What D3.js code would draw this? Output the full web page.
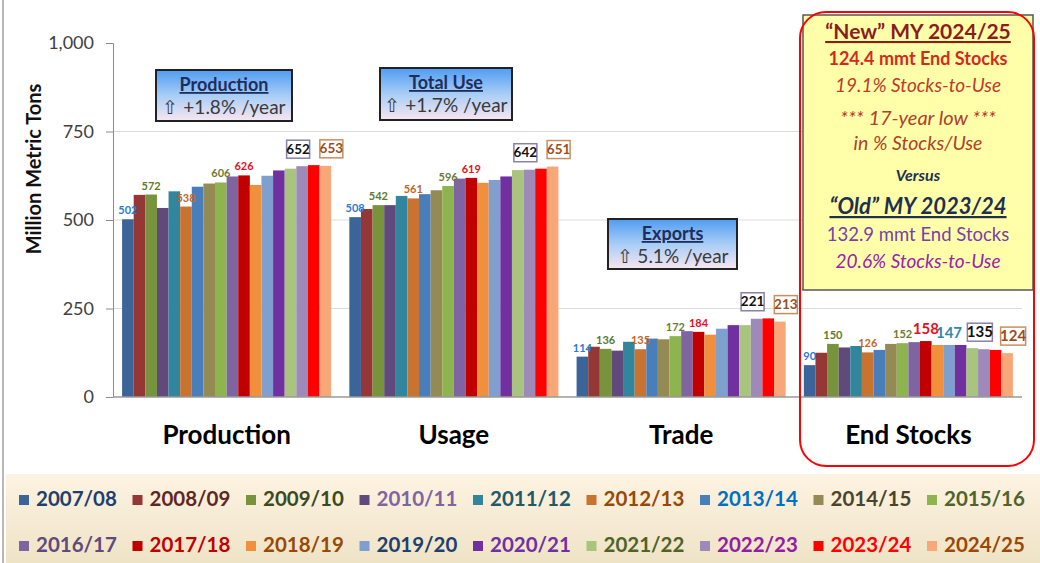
<!DOCTYPE html>
<html>
<head>
<meta charset="utf-8">
<script src="https://cdn.jsdelivr.net/npm/d3@7"></script>
<style>
  body { margin: 0; background: #fff; }
  svg { display: block; font-family: Lato, "Open Sans", sans-serif; }
</style>
</head>
<body>
<div id="container"></div>
<script>
// Chart data
const years = ["2007/08", "2008/09", "2009/10", "2010/11", "2011/12", "2012/13",
  "2013/14", "2014/15", "2015/16", "2016/17", "2017/18", "2018/19",
  "2019/20", "2020/21", "2021/22", "2022/23", "2023/24", "2024/25"];
const groups = ["Production", "Usage", "Trade", "End Stocks"];
const production = [502, 571, 572, 534, 581, 538, 594, 603, 606, 623, 626, 599, 625, 640, 645, 652, 655, 653];
const usage = [508, 531, 542, 542, 568, 561, 573, 584, 596, 617, 619, 605, 613, 623, 641, 642, 645, 651];
const trade = [114, 142, 136, 131, 156, 135, 165, 163, 172, 186, 184, 176, 193, 203, 203, 221, 222, 213];
const endStocks = [90, 125, 150, 140, 144, 126, 133, 150, 152, 155, 158, 147, 147, 147, 138, 135, 133, 124];
const yTicks = [0, 250, 500, 750, 1000];

// which bars get a value label (by year index)
const smallLabelIdx = [[0, 2, 5, 8, 10], [0, 2, 5, 8, 10], [0, 2, 5, 8, 10], [0, 2, 5, 8, 10, 12]];
const boxLabelIdx = [15, 17];

const barColors = ["#3b6499", "#953735", "#77933c", "#604a7b", "#31859c", "#c8732f",
  "#4a7ebb", "#948a54", "#8eb44f", "#8064a2", "#c00000", "#f0903c",
  "#7f9fcf", "#7030a0", "#a9c47f", "#9d8ab8", "#ff0000", "#f8a878"];
const legendTextColors = ["#1f3f6e", "#632523", "#3a4a1c", "#8064a2", "#215968", "#984807",
  "#0070c0", "#4a452a", "#4f6228", "#604a7b", "#c00000", "#984807",
  "#1f3f6e", "#7030a0", "#4f6228", "#9020a0", "#ff0000", "#984807"];
const labelColors = { 0: "#2a7ad6", 2: "#5d7a2b", 5: "#c4661e", 8: "#6b7a33", 10: "#e3101c", 12: "#2f8aa6" };

const width = 1040;
const height = 563;
const seriesByGroup = [production, usage, trade, endStocks];

const svg = d3.select("#container").append("svg")
  .attr("width", width).attr("height", height);

const defs = svg.append("defs");
const boxGrad = defs.append("linearGradient").attr("id", "boxGrad")
  .attr("x1", 0).attr("y1", 0).attr("x2", 0).attr("y2", 1);
boxGrad.append("stop").attr("offset", "0%").attr("stop-color", "#4f9cf2");
boxGrad.append("stop").attr("offset", "50%").attr("stop-color", "#a8cdf6");
boxGrad.append("stop").attr("offset", "100%").attr("stop-color", "#f8e6f0");
const legGrad = defs.append("linearGradient").attr("id", "legGrad")
  .attr("x1", 0).attr("y1", 0).attr("x2", 0).attr("y2", 1);
legGrad.append("stop").attr("offset", "0%").attr("stop-color", "#fdf3e2");
legGrad.append("stop").attr("offset", "100%").attr("stop-color", "#efe3c6");

// frame line on the left
svg.append("line").attr("x1", 3).attr("x2", 3).attr("y1", 0).attr("y2", 473)
  .attr("stroke", "#a0a0a0").attr("stroke-width", 1.5);

// scales
const y = d3.scaleLinear().domain([0, 1000]).range([397, 43]);
const x0 = d3.scaleBand().domain(groups).range([113, 1022]).paddingInner(0.08).paddingOuter(0.04);
const x1 = d3.scaleBand().domain(years).range([0, x0.bandwidth()]);

// gridlines
svg.append("g").selectAll("line")
  .data(yTicks.filter(d => d > 0 && d < 1000))
  .join("line")
  .attr("x1", 113).attr("x2", 1022)
  .attr("y1", d => y(d)).attr("y2", d => y(d))
  .attr("stroke", "#dcdcdc");

// y axis
const yAxis = svg.append("g")
  .attr("transform", "translate(113,0)")
  .call(d3.axisLeft(y).tickValues(yTicks).tickSize(7).tickPadding(12).tickFormat(d3.format(",")));
yAxis.select(".domain").attr("stroke", "#8c8c8c");
yAxis.selectAll(".tick line").attr("stroke", "#8c8c8c");
yAxis.selectAll("text").attr("font-size", 18).attr("fill", "#404040")
  .attr("font-family", "Lato, sans-serif");

svg.append("text")
  .attr("transform", "translate(41,169) rotate(-90)")
  .attr("text-anchor", "middle")
  .attr("font-size", 20).attr("font-weight", "bold").attr("fill", "#111")
  .text("Million Metric Tons");

// bars
const groupG = svg.append("g").selectAll("g")
  .data(groups)
  .join("g")
  .attr("transform", d => `translate(${x0(d)},0)`);

groupG.selectAll("rect")
  .data((g, gi) => years.map((yr, i) => ({ yr, i, v: seriesByGroup[gi][i] })))
  .join("rect")
  .attr("x", d => x1(d.yr))
  .attr("width", x1.bandwidth())
  .attr("y", d => y(d.v))
  .attr("height", d => y(0) - y(d.v))
  .attr("fill", d => barColors[d.i]);

// baseline
svg.append("line").attr("x1", 113).attr("x2", 1022).attr("y1", y(0)).attr("y2", y(0))
  .attr("stroke", "#9a9a9a").attr("stroke-width", 1.5);

// small value labels
groupG.each(function (g, gi) {
  const sel = d3.select(this);
  const data = seriesByGroup[gi];
  smallLabelIdx[gi].forEach(i => {
    const big = gi === 3 && (i === 10 || i === 12);
    sel.append("text")
      .attr("x", x1(years[i]) + x1.bandwidth() / 2)
      .attr("y", y(data[i]) - (big ? 7 : 5))
      .attr("text-anchor", "middle")
      .attr("font-size", big ? 15 : 11)
      .attr("font-weight", "bold")
      .attr("fill", labelColors[i])
      .text(data[i]);
  });
  // boxed labels
  boxLabelIdx.forEach((i, k) => {
    const cx = x1(years[i]) + x1.bandwidth() / 2 + (k === 0 ? -4 : 6);
    const by = y(data[i]) - 8;
    const w = gi === 3 ? 25 : 23, h = 18;
    sel.append("rect")
      .attr("x", cx - w / 2).attr("y", by - h)
      .attr("width", w).attr("height", h)
      .attr("fill", "#fff")
      .attr("stroke", k === 0 ? "#8a80a8" : "#c98e60")
      .attr("stroke-width", 1.5);
    sel.append("text")
      .attr("x", cx).attr("y", by - 4.5)
      .attr("text-anchor", "middle")
      .attr("font-size", gi === 3 ? 15 : 13.5)
      .attr("font-weight", "bold")
      .attr("fill", k === 0 ? "#111" : "#9a4e1c")
      .text(data[i]);
  });
});

// category labels
svg.append("g").selectAll("text")
  .data(groups)
  .join("text")
  .attr("x", d => x0(d) + x0.bandwidth() / 2)
  .attr("y", 444)
  .attr("text-anchor", "middle")
  .attr("font-size", 26).attr("font-weight", "bold").attr("fill", "#000")
  .text(d => d);

// growth boxes
const growthBoxes = [
  { title: "Production", rate: "\u21E7 +1.8% /year", x: 156, y: 70, w: 136, h: 51 },
  { title: "Total Use", rate: "\u21E7 +1.7% /year", x: 380, y: 68, w: 132, h: 52 },
  { title: "Exports", rate: "\u21E7 5.1% /year", x: 608, y: 219, w: 129, h: 50 }
];
const gb = svg.append("g").selectAll("g").data(growthBoxes).join("g");
gb.append("rect")
  .attr("x", d => d.x).attr("y", d => d.y).attr("width", d => d.w).attr("height", d => d.h)
  .attr("fill", "url(#boxGrad)").attr("stroke", "#222").attr("stroke-width", 2);
gb.append("text")
  .attr("x", d => d.x + d.w / 2).attr("y", d => d.y + 21)
  .attr("text-anchor", "middle").attr("font-size", 18).attr("font-weight", "bold")
  .attr("fill", "#1f2d5a").style("text-decoration", "underline")
  .text(d => d.title);
gb.append("text")
  .attr("x", d => d.x + d.w / 2).attr("y", d => d.y + 44)
  .attr("text-anchor", "middle").attr("font-size", 19)
  .attr("fill", "#3a3a3a")
  .text(d => d.rate);

// end-stocks callout
svg.append("rect").attr("x", 803).attr("y", 15).attr("width", 230).attr("height", 275)
  .attr("fill", "#ffffaa").attr("stroke", "#555").attr("stroke-width", 1.5);
const noteLines = [
  { t: "\u201CNew\u201D MY 2024/25", y: 39, size: 21, w: "bold", s: "normal", c: "#8b1c1c", u: true },
  { t: "124.4 mmt End Stocks", y: 65, size: 18, w: "bold", s: "normal", c: "#d42a1e" },
  { t: "19.1% Stocks-to-Use", y: 92, size: 19, w: "normal", s: "italic", c: "#c03a2a" },
  { t: "*** 17-year low ***", y: 125, size: 20, w: "normal", s: "italic", c: "#b0402a" },
  { t: "in % Stocks/Use", y: 150, size: 19.5, w: "normal", s: "italic", c: "#b0402a" },
  { t: "Versus", y: 181, size: 16, w: "bold", s: "italic", c: "#1f2f4f" },
  { t: "\u201COld\u201D MY 2023/24", y: 214, size: 22, w: "bold", s: "italic", c: "#1f2f4f", u: true },
  { t: "132.9 mmt End Stocks", y: 241, size: 18.5, w: "normal", s: "normal", c: "#7a40a8" },
  { t: "20.6% Stocks-to-Use", y: 268, size: 19, w: "normal", s: "italic", c: "#9a22b0" }
];
svg.append("g").selectAll("text").data(noteLines).join("text")
  .attr("x", 918).attr("y", d => d.y)
  .attr("text-anchor", "middle")
  .attr("font-size", d => d.size).attr("font-weight", d => d.w).attr("font-style", d => d.s)
  .attr("fill", d => d.c)
  .style("text-decoration", d => d.u ? "underline" : null)
  .text(d => d.t);

svg.append("rect").attr("x", 800).attr("y", 12).attr("width", 234).attr("height", 454)
  .attr("rx", 26).attr("fill", "none").attr("stroke", "#ff0000").attr("stroke-width", 2);

// legend
svg.append("rect").attr("x", 6).attr("y", 474).attr("width", width - 6).attr("height", height - 474)
  .attr("fill", "url(#legGrad)");
svg.append("line").attr("x1", 3).attr("x2", 3).attr("y1", 473).attr("y2", height)
  .attr("stroke", "#a0a0a0").attr("stroke-width", 1.5);
const leg = svg.append("g").selectAll("g").data(years).join("g")
  .attr("transform", (d, i) => `translate(${19 + (i % 9) * 113.5},${i < 9 ? 506 : 552})`);
leg.append("rect").attr("x", 0).attr("y", -11).attr("width", 10).attr("height", 10)
  .attr("fill", (d, i) => barColors[i]);
leg.append("text").attr("x", 17).attr("y", 0)
  .attr("font-size", 20.5).attr("font-weight", "bold")
  .attr("fill", (d, i) => legendTextColors[i])
  .text(d => d);
</script>
</body>
</html>
